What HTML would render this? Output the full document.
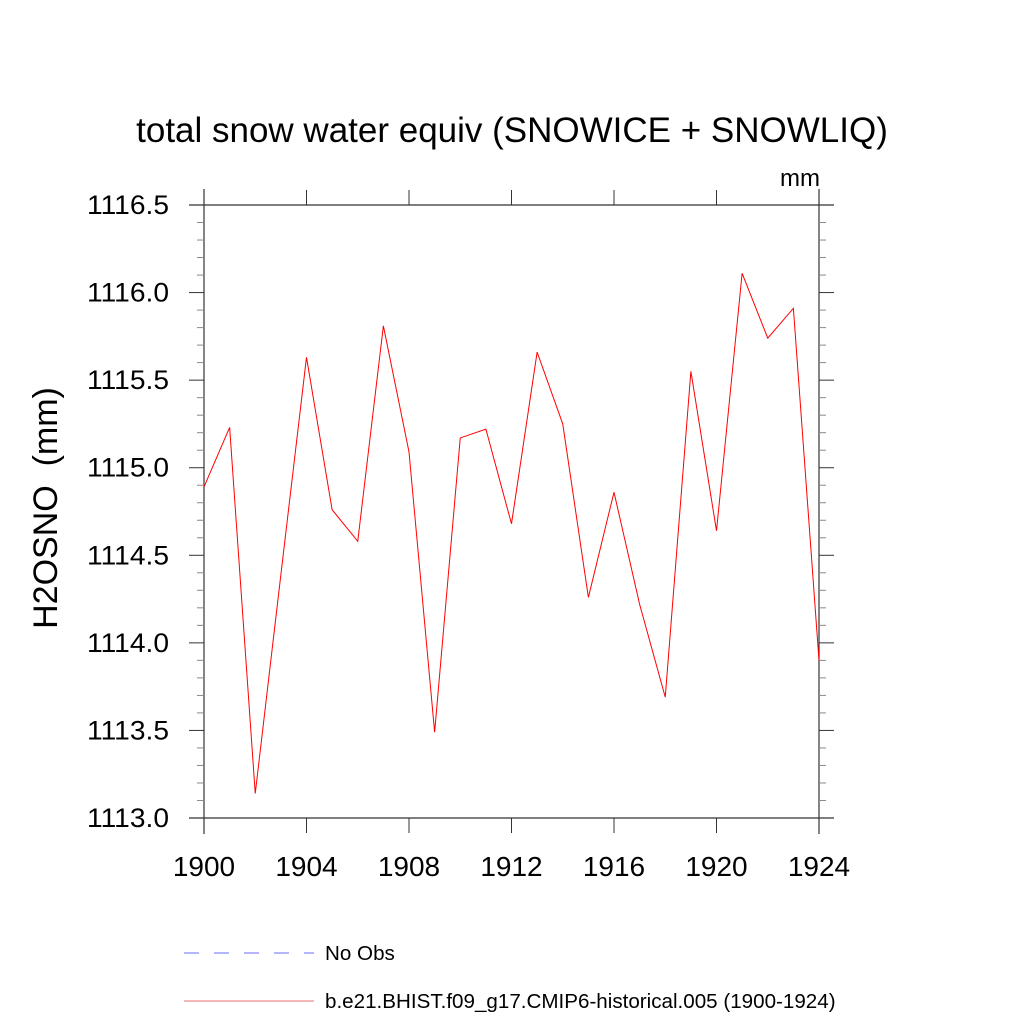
<!DOCTYPE html>
<html><head><meta charset="utf-8"><style>
body{margin:0;background:#fff;width:1024px;height:1024px;overflow:hidden}
svg text{font-family:"Liberation Sans",sans-serif}
</style></head><body>
<svg id="chart" width="1024" height="1024" viewBox="0 0 1024 1024" xmlns="http://www.w3.org/2000/svg">
<text x="512" y="142" font-size="35" text-anchor="middle">total snow water equiv (SNOWICE + SNOWLIQ)</text>
<text x="820" y="186" font-size="24" text-anchor="end">mm</text>
<text transform="translate(57,508) rotate(-90)" font-size="34" text-anchor="middle" xml:space="preserve" style="white-space:pre">H2OSNO  (mm)</text>
<g id="axes"></g>
<g id="series"></g>
<g>
<line x1="184" y1="953" x2="314" y2="953" stroke="#6b6bff" stroke-width="1" stroke-dasharray="15,15"/>
<text x="325" y="960" font-size="20.6">No Obs</text>
<line x1="184" y1="1001" x2="314" y2="1001" stroke="#e87070" stroke-width="1"/>
<text x="325" y="1008" font-size="20.6">b.e21.BHIST.f09_g17.CMIP6-historical.005 (1900-1924)</text>
</g>
</svg>
<script>
const years=[1900,1901,1902,1903,1904,1905,1906,1907,1908,1909,1910,1911,1912,1913,1914,1915,1916,1917,1918,1919,1920,1921,1922,1923,1924];
const values=[1114.89,1115.23,1113.14,1114.39,1115.63,1114.76,1114.58,1115.81,1115.09,1113.49,1115.17,1115.22,1114.68,1115.66,1115.25,1114.26,1114.86,1114.22,1113.69,1115.55,1114.64,1116.11,1115.74,1115.91,1113.90];
const xTicks=[1900,1904,1908,1912,1916,1920,1924];
const yTicks=[1113.0,1113.5,1114.0,1114.5,1115.0,1115.5,1116.0,1116.5];
const yTickLabels=["1113.0","1113.5","1114.0","1114.5","1115.0","1115.5","1116.0","1116.5"];
const NS="http://www.w3.org/2000/svg";
const L=204,R=819,T=205,B=818;
const xs=v=>L+(v-1900)/(1924-1900)*(R-L);
const ys=v=>B-(v-1113)/(1116.5-1113)*(B-T);
function mk(tag,attrs,parent){const e=document.createElementNS(NS,tag);for(const k in attrs)e.setAttribute(k,attrs[k]);parent.appendChild(e);return e;}
const axes=document.getElementById('axes');
const ac="#333";
let e;
e=mk('line',{x1:189,y1:T,x2:834,y2:T,stroke:ac,'stroke-width':1.2},axes);


e=mk('line',{x1:189,y1:B,x2:834,y2:B,stroke:ac,'stroke-width':1.2},axes);


e=mk('line',{x1:L,y1:189,x2:L,y2:834,stroke:ac,'stroke-width':1.2},axes);


e=mk('line',{x1:R,y1:189,x2:R,y2:834,stroke:ac,'stroke-width':1.2},axes);


xTicks.forEach(t=>{const x=xs(t);
 e=mk('line',{x1:x,y1:B,x2:x,y2:B+15,stroke:ac},axes);
 
 
 e=mk('line',{x1:x,y1:T,x2:x,y2:T-15,stroke:ac},axes);
 
 
 e=mk('text',{x:x,y:876,'font-size':28,'text-anchor':'middle'},axes);e.textContent=t;
 
 
});
for(let v=1113;v<=1116.5001;v+=0.1){const y=ys(v);const major=Math.abs(v*2-Math.round(v*2))<1e-6;const len=major?15:7;
 e=mk('line',{x1:L-len,y1:y,x2:L,y2:y,stroke:major?ac:'#888'},axes);
 
 
 e=mk('line',{x1:R,y1:y,x2:R+len,y2:y,stroke:major?ac:'#888'},axes);
 
 
}
yTicks.forEach((t,i)=>{
 e=mk('text',{x:87,y:ys(t)+9,'font-size':26.5,textLength:82,lengthAdjust:'spacingAndGlyphs'},axes);e.textContent=yTickLabels[i];
 
 
});
const series=document.getElementById('series');
const pts=years.map((yr,i)=>xs(yr).toFixed(2)+','+ys(values[i]).toFixed(2)).join(' ');
e=mk('polyline',{points:pts,fill:'none',stroke:'#ff0000','stroke-width':1},series);


</script>
</body></html>
